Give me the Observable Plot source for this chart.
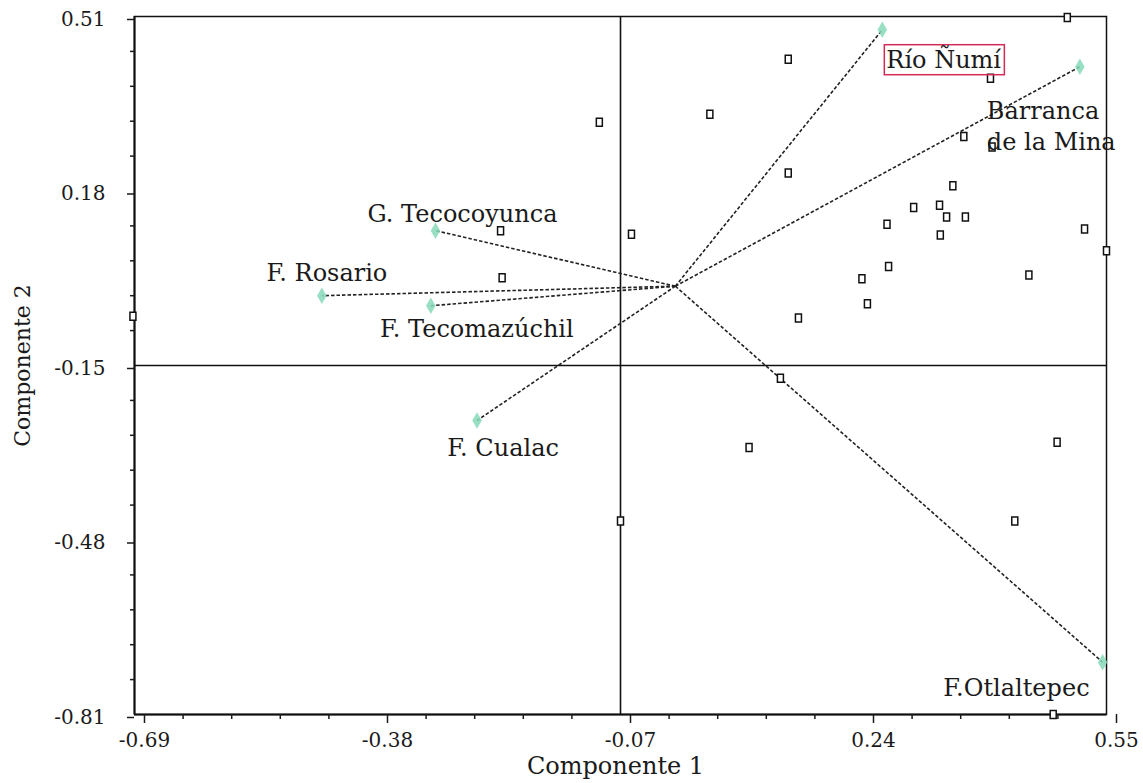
<!DOCTYPE html>
<html>
<head>
<meta charset="utf-8">
<script src="https://cdn.jsdelivr.net/npm/d3@7"></script>
<script src="https://cdn.jsdelivr.net/npm/@observablehq/plot@0.6"></script>
<style>
  html, body { margin: 0; padding: 0; background: #fff; }
  #chart { width: 1143px; height: 783px; }
  #chart svg g[aria-label="x-axis tick label"],
  #chart svg g[aria-label="y-axis tick label"] { font-size: 20px !important; }
</style>
</head>
<body>
<div id="chart"></div>
<script>
// ---- Data ----
const sitios = ["Río Ñumí", "Barranca\nde la Mina", "G. Tecocoyunca", "F. Rosario", "F. Tecomazúchil", "F. Cualac", "F.Otlaltepec"];
const comp1 = [0.264, 0.516, -0.306, -0.451, -0.312, -0.253, 0.545];
const comp2 = [0.485, 0.415, 0.105, -0.018, -0.037, -0.254, -0.711];
const origen = [0, 0];

const muestraX = [0.500, 0.144, 0.402, -0.097, 0.044, 0.368, 0.404, 0.144, 0.354, 0.304, 0.337, 0.346, 0.370, 0.270, 0.338, 0.522, 0.550, -0.223, -0.056, 0.272, 0.238, 0.451, -0.221, 0.245, 0.157, -0.692, 0.134, 0.094, 0.487, -0.070, 0.433, 0.482];
const muestraY = [0.508, 0.429, 0.393, 0.310, 0.325, 0.283, 0.263, 0.214, 0.190, 0.149, 0.153, 0.131, 0.131, 0.117, 0.097, 0.108, 0.067, 0.105, 0.098, 0.037, 0.014, 0.021, 0.016, -0.033, -0.060, -0.057, -0.174, -0.305, -0.295, -0.444, -0.444, -0.810];

const xTicks = [-0.69, -0.38, -0.07, 0.24, 0.55];
const yTicks = [-0.81, -0.48, -0.15, 0.18, 0.51];
const xTitle = "Componente 1";
const yTitle = "Componente 2";
const resaltado = "Río Ñumí";

// ---- Layout (label placement relative to vector tips) ----
const labelLayout = [
  {anchor: "start",  dx: 4,   dy: 28},
  {anchor: "start",  dx: -93, dy: 58},
  {anchor: "middle", dx: 27,  dy: -19},
  {anchor: "middle", dx: 5,   dy: -25},
  {anchor: "middle", dx: 46,  dy: 21},
  {anchor: "middle", dx: 26,  dy: 26},
  {anchor: "end",    dx: -13, dy: 24}
];

function subdivide(ticks, n) {
  const out = [];
  for (let i = 0; i < ticks.length - 1; i++) {
    const step = (ticks[i + 1] - ticks[i]) / n;
    for (let k = 1; k < n; k++) out.push(ticks[i] + k * step);
  }
  return out;
}
const xMinor = subdivide(xTicks, 5);
const yMinor = subdivide(yTicks, 5);

const idx = d3.range(sitios.length);
const pts = d3.range(muestraX.length);

const rectSymbol = { draw(ctx) { ctx.rect(-3, -4, 6, 8); } };
const fmt = d => d.toFixed(2);

const labelMarks = idx.map(i => Plot.text([i], {
  x: j => comp1[j], y: j => comp2[j], text: j => sitios[j],
  textAnchor: labelLayout[i].anchor, dx: labelLayout[i].dx, dy: labelLayout[i].dy,
  fontSize: 24, lineHeight: 1.3, fill: "#1a1a1a"
}));

const chart = Plot.plot({
  width: 1143,
  height: 783,
  marginLeft: 134,
  marginRight: 37,
  marginTop: 16,
  marginBottom: 69,
  style: { fontFamily: "'DejaVu Serif', serif", fontSize: "20px", background: "#fff", color: "#1a1a1a" },
  x: { domain: [xTicks[0], xTicks[xTicks.length - 1]], label: null },
  y: { domain: [yTicks[0], yTicks[yTicks.length - 1]], label: null },
  marks: [
    Plot.frame({ stroke: "#111", strokeWidth: 1.5 }),
    Plot.ruleX([xTicks[0]], { stroke: "#111", strokeWidth: 2 }),
    Plot.ruleY([yTicks[0]], { stroke: "#111", strokeWidth: 2 }),
    Plot.ruleX([xTicks[2]], { stroke: "#111", strokeWidth: 1.6 }),
    Plot.ruleY([yTicks[2]], { stroke: "#111", strokeWidth: 1.6 }),
    Plot.axisX({ ticks: xTicks, tickSize: 9, tickPadding: 9, tickFormat: fmt, dx: 10, fontSize: 20, label: null, strokeWidth: 1.5 }),
    Plot.axisX({ ticks: xMinor, tickSize: 5, tickFormat: () => "", label: null, strokeWidth: 1.5 }),
    Plot.axisY({ ticks: yTicks, tickSize: 7, tickPadding: 22, tickFormat: fmt, dy: 3, fontSize: 20, label: null, strokeWidth: 1.5 }),
    Plot.axisY({ ticks: yMinor, tickSize: 4, tickFormat: () => "", label: null, strokeWidth: 1.5 }),
    Plot.link(idx, {
      x1: () => origen[0], y1: () => origen[1],
      x2: i => comp1[i], y2: i => comp2[i],
      stroke: "#222", strokeWidth: 1.6, strokeDasharray: "3.5,2"
    }),
    Plot.dot(idx, { x: i => comp1[i], y: i => comp2[i], symbol: "diamond", r: 5, fill: "#86d9b8", fillOpacity: 0.85 }),
    Plot.dot(pts, { x: i => muestraX[i], y: i => muestraY[i], symbol: rectSymbol, stroke: "#111", strokeWidth: 1.5, fill: "#fff" }),
    ...labelMarks,
    Plot.text([xTitle], { frameAnchor: "bottom", text: d => d, textAnchor: "middle", dx: -5, dy: 52, lineAnchor: "middle", fontSize: 24, fill: "#1a1a1a" }),
    Plot.text([yTitle], { frameAnchor: "left", text: d => d, textAnchor: "middle", rotate: -90, dx: -112, lineAnchor: "middle", fontSize: 22, fill: "#1a1a1a" })
  ]
});

document.getElementById("chart").appendChild(chart);

// red box around the highlighted label
const t = Array.from(chart.querySelectorAll("text")).find(el => el.textContent === resaltado);
if (t) {
  const bb = t.getBBox();
  const r = document.createElementNS("http://www.w3.org/2000/svg", "rect");
  r.setAttribute("x", bb.x - 2);
  r.setAttribute("y", bb.y + 1);
  r.setAttribute("width", bb.width + 5);
  r.setAttribute("height", bb.height);
  const tr = t.getAttribute("transform");
  if (tr) r.setAttribute("transform", tr);
  r.setAttribute("fill", "none");
  r.setAttribute("stroke", "#d42a55");
  r.setAttribute("stroke-width", "1.5");
  t.parentNode.insertBefore(r, t);
}
</script>
</body>
</html>
